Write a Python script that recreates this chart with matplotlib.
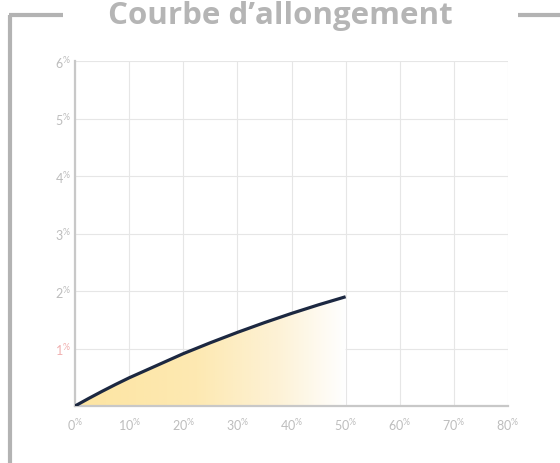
import matplotlib
matplotlib.use("Agg")
import matplotlib.pyplot as plt
import numpy as np
from matplotlib.colors import LinearSegmentedColormap
from matplotlib.lines import Line2D
from matplotlib.patches import Polygon

plt.rcParams['font.family'] = ['Lato', 'DejaVu Sans']
plt.rcParams['mathtext.fontset'] = 'custom'
plt.rcParams['mathtext.rm'] = 'Lato'

title = "Courbe d\u2019allongement"
x_ticks = [0, 10, 20, 30, 40, 50, 60, 70, 80]
y_ticks = [1, 2, 3, 4, 5, 6]
elong_x = [0, 2.5, 5, 7.5, 10, 15, 20, 25, 30, 35, 40, 45, 50]
elong_y = [0, 0.13, 0.255, 0.375, 0.49, 0.70, 0.91, 1.10, 1.28, 1.45, 1.61, 1.76, 1.90]

fig = plt.figure(figsize=(5.6, 4.64), dpi=100)
ax = fig.add_axes([75/560, 1-407/464, (508-75)/560, (407-62)/464])
ax.set_xlim(0, 80)
ax.set_ylim(0, 6)

# gradient fill under the curve
cmap = LinearSegmentedColormap.from_list(
    "g", [(0, "#fde5a2"), (0.45, "#fde9b2"), (0.75, "#fdf2d6"), (1.0, "#ffffff")])
grad = np.linspace(0, 1, 256).reshape(1, -1)
im = ax.imshow(grad, extent=[0, 50, 0, 2.0], aspect="auto", cmap=cmap,
               origin="lower", zorder=1, interpolation="bilinear")
verts = np.vstack([np.column_stack([elong_x, elong_y]), [[50, 0], [0, 0]]])
clip = Polygon(verts, closed=True, transform=ax.transData, facecolor="none", edgecolor="none")
ax.add_patch(clip)
im.set_clip_path(clip)

ax.plot(elong_x, elong_y, color="#1c2841", lw=2.3, solid_capstyle="butt",
        solid_joinstyle="round", zorder=3)

ax.set_xticks(x_ticks)
ax.set_yticks(y_ticks)
ax.set_xticklabels([f"{v}$^{{\\%}}$" for v in x_ticks])
ax.set_yticklabels([f"{v}$^{{\\%}}$" for v in y_ticks])
ax.tick_params(length=0, labelsize=9, labelcolor="#bdbdbd", pad=7)
ax.tick_params(axis="y", pad=3)
for lab in ax.get_yticklabels():
    if lab.get_text().startswith("1"):
        lab.set_color("#f0b0b0")
ax.grid(True, color="#e6e6e6", lw=0.8, zorder=0)
ax.set_axisbelow(True)
for s in ["top", "right"]:
    ax.spines[s].set_visible(False)
ax.spines["left"].set_color("#c8c8c8")
ax.spines["bottom"].set_color("#c8c8c8")
ax.spines["left"].set_linewidth(1.6)
ax.spines["bottom"].set_linewidth(1.6)

# frame lines
fc = "#b3b3b3"
def fx(p): return p/560
def fy(p): return 1-p/464
fig.add_artist(Line2D([fx(10), fx(10)], [fy(16), fy(470)], color=fc, lw=3, solid_capstyle="butt"))
fig.add_artist(Line2D([fx(8.5), fx(63)], [fy(16), fy(16)], color=fc, lw=3, solid_capstyle="butt"))
fig.add_artist(Line2D([fx(518), fx(560)], [fy(16), fy(16)], color=fc, lw=3, solid_capstyle="butt"))

fig.text(0.5, fy(16), title, ha="center", va="center", fontsize=22.5,
         fontweight="bold", color="#b5b5b5", family=["Open Sans", "DejaVu Sans"])

fig.savefig("out.png", dpi=100)
